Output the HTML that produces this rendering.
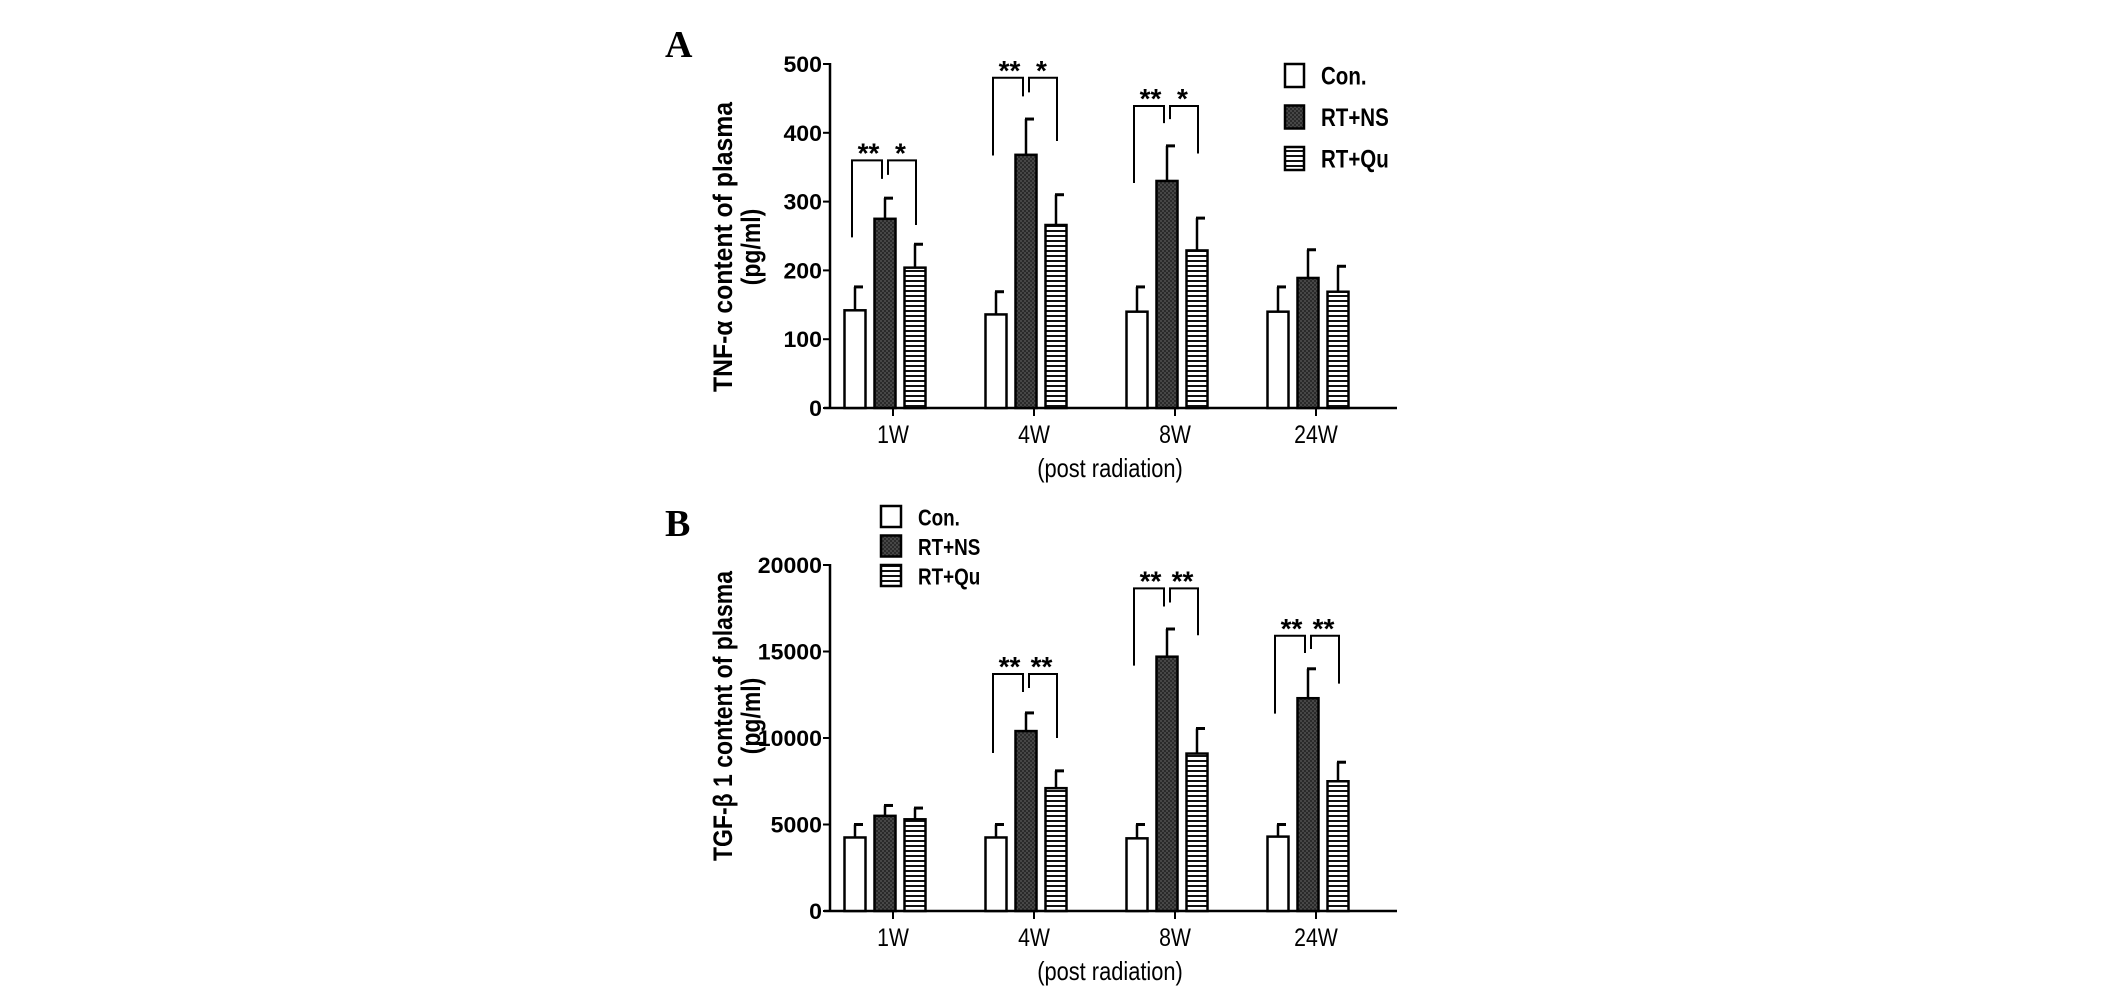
<!DOCTYPE html>
<html><head><meta charset="utf-8"><style>
html,body{margin:0;padding:0;background:#fff}
svg{display:block;font-family:"Liberation Sans",Arial,sans-serif}
</style></head><body>
<svg id="fig" width="2126" height="989" viewBox="0 0 2126 989" xmlns="http://www.w3.org/2000/svg">
<defs>
<pattern id="checker" width="4" height="4" patternUnits="userSpaceOnUse">
<rect width="4" height="4" fill="#2a2a2a"/><rect width="2" height="2" fill="#474747"/><rect x="2" y="2" width="2" height="2" fill="#474747"/>
</pattern>
<pattern id="stripes" width="5" height="5" patternUnits="userSpaceOnUse">
<rect width="5" height="5" fill="#fff"/><rect y="0" width="5" height="2" fill="#111"/>
</pattern>
</defs>
</svg>
<script>
const categories = ["1W","4W","8W","24W"];
const seriesNames = ["Con.","RT+NS","RT+Qu"];
// Panel A (TNF-alpha)
const aCon = [142,136,140,140];
const aNS = [275,368,330,189];
const aQu = [204,266,229,169];
const aConErr = [176,169,176,176];
const aNSErr = [305,420,381,230];
const aQuErr = [238,310,276,206];
const aTicks = [0,100,200,300,400,500];
// brackets: [top, leftDown, midDown, rightDown] per group (null = none)
const aBrackets = [[360,248,333,266],[480,367,453,388],[439,327,414,370],null];
const aStars = [["**","*"],["**","*"],["**","*"],null];
// Panel B (TGF-beta1)
const bCon = [4250,4250,4200,4300];
const bNS = [5500,10400,14700,12300];
const bQu = [5300,7100,9100,7500];
const bConErr = [5000,5000,5000,5000];
const bNSErr = [6100,11450,16300,14000];
const bQuErr = [5950,8100,10550,8600];
const bTicks = [0,5000,10000,15000,20000];
const bBrackets = [null,[13700,9130,12660,10000],[18650,14180,17600,15940],[15910,11410,14910,13140]];
const bStars = [null,["**","**"],["**","**"],["**","**"]];

const svg = document.getElementById('fig');
const NS = 'http://www.w3.org/2000/svg';
function mk(tag, attrs, parent){
  const e = document.createElementNS(NS, tag);
  for (const k in attrs) e.setAttribute(k, attrs[k]);
  (parent||svg).appendChild(e);
  return e;
}
function ctext(parent, x, y, str, size, weight, anchor, sx, rot){
  const t = mk('text',{x:0,y:0,'text-anchor':anchor,'font-size':size,'font-weight':weight,
    transform:`translate(${x},${y})${rot?' rotate(-90)':''} scale(${sx},1)`},parent);
  t.textContent = str;
  return t;
}
const fills = ['#fff','url(#checker)','url(#stripes)'];

function panel(cfg){
  const g = mk('g',{});
  
  
  const y = v => cfg.y0 - (v/cfg.max)*(cfg.y0-cfg.yTop);
  const gx = i => cfg.gx0 + i*cfg.gstep;
  const ax = mk('line',{x1:cfg.ax,y1:cfg.yTop-1,x2:cfg.ax,y2:cfg.y0,stroke:'#000','stroke-width':2.5},g);
  
  
  const xx = mk('line',{x1:cfg.ax-6,y1:cfg.y0,x2:cfg.axEnd,y2:cfg.y0,stroke:'#000','stroke-width':2.5},g);
  
  
  cfg.ticks.forEach(t=>{
    mk('line',{x1:cfg.ax-7,y1:y(t),x2:cfg.ax,y2:y(t),stroke:'#000','stroke-width':2},g);
    const tl = ctext(g, cfg.ax-8, y(t)+8, String(t), 22, 'bold', 'end', 1.05, false);
    
    
  });
  categories.forEach((c,i)=>{
    mk('line',{x1:gx(i)+8,y1:cfg.y0,x2:gx(i)+8,y2:cfg.y0+8,stroke:'#000','stroke-width':2},g);
    const l = ctext(g, gx(i)+8, cfg.y0+35, c, 25, 'normal', 'middle', 0.85, false);
    
    
  });
  const xt = ctext(g, cfg.ax+280, cfg.y0+69, '(post radiation)', 26, 'normal', 'middle', 0.84, false);
  
  
  const yc = cfg.titleC;
  const yt = mk('text',{x:0,y:0,'text-anchor':'middle','font-size':27,'font-weight':'bold',
    textLength:290,lengthAdjust:'spacingAndGlyphs',transform:`translate(${cfg.ax-98},${yc}) rotate(-90)`},g);
  yt.textContent = cfg.title1;
  
  
  const yt2 = ctext(g, cfg.ax-70, yc, '(pg/ml)', 27, 'bold', 'middle', 0.85, true);
  
  
  const bw = 21, off = 30;
  [cfg.s0,cfg.s1,cfg.s2].forEach((arr,si)=>{
    const errs = [cfg.e0,cfg.e1,cfg.e2][si];
    arr.forEach((v,i)=>{
      const cx = gx(i)+(si-1)*off;
      const top = y(errs[i]);
      const el = mk('line',{x1:cx,y1:y(v),x2:cx,y2:top,stroke:'#000','stroke-width':2.5},g);
      
      
      mk('line',{x1:cx-1,y1:top,x2:cx+8,y2:top,stroke:'#000','stroke-width':3},g);
      const r = mk('rect',{x:cx-bw/2,y:y(v),width:bw,height:cfg.y0-y(v),fill:fills[si],stroke:'#000','stroke-width':2.5},g);
      
      
    });
  });
  cfg.brackets.forEach((b,i)=>{
    if(!b) return;
    const lx = gx(i)-off-3, mx = gx(i), rx = gx(i)+off+1;
    const p = mk('path',{d:`M${lx},${y(b[1])} V${y(b[0])} H${mx-3} V${y(b[2])} M${mx+3},${y(b[2])-4} V${y(b[0])} H${rx} V${y(b[3])}`,fill:'none',stroke:'#000','stroke-width':2},g);
    
    
    const st = cfg.stars[i];
    [[ (lx+mx)/2, st[0]],[ (mx+rx)/2, st[1]]].forEach(([sx,s])=>{
      const t = mk('text',{x:sx,y:y(b[0])+2,'text-anchor':'middle','font-size':28,'font-weight':'bold'},g);
      t.textContent = s;
      
      
    });
  });
  seriesNames.forEach((n,si)=>{
    const ly = cfg.legY + si*cfg.legStep;
    const r = mk('rect',{x:cfg.legX,y:ly,width:cfg.box[0],height:cfg.box[1],fill:fills[si],stroke:'#000','stroke-width':2.5},g);
    
    
    const t = ctext(g, cfg.legX+cfg.box[0]+17, ly+cfg.box[1]/2+9, n, cfg.legFont, 'bold', 'start', 0.82, false);
    
    
  });
  const L = mk('text',{x:cfg.letterX,y:cfg.letterY,'font-size':38,'font-weight':'bold','font-family':'Liberation Serif, serif'},g);
  L.textContent = cfg.letter;
  
  
}

panel({name:'panel-a-tnf-alpha',letter:'A',letterX:665,letterY:57,ax:830,axEnd:1397,y0:408,yTop:64,max:500,
  gx0:885,gstep:141,ticks:aTicks,title1:'TNF-\u03B1 content of plasma',titleC:247,
  s0:aCon,s1:aNS,s2:aQu,e0:aConErr,e1:aNSErr,e2:aQuErr,brackets:aBrackets,stars:aStars,
  legX:1285,legY:64,legStep:41.5,box:[19,23],legFont:25});
panel({name:'panel-b-tgf-beta1',letter:'B',letterX:665,letterY:536,ax:830,axEnd:1397,y0:911,yTop:565,max:20000,
  gx0:885,gstep:141,ticks:bTicks,title1:'TGF-\u03B2 1 content of plasma',titleC:716,
  s0:bCon,s1:bNS,s2:bQu,e0:bConErr,e1:bNSErr,e2:bQuErr,brackets:bBrackets,stars:bStars,
  legX:881,legY:506,legStep:29.5,box:[20,21],legFont:23});
</script>
</body></html>
